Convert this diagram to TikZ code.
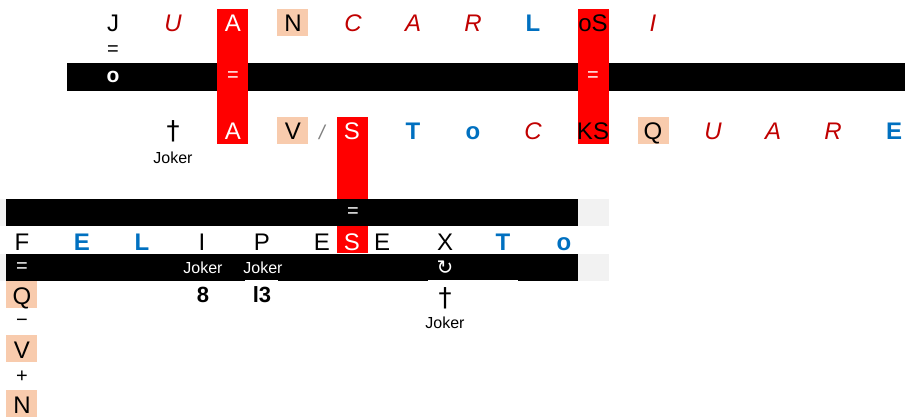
\documentclass[tikz,border=0pt]{standalone}
\usepackage{fontspec}
\setmainfont{Liberation Sans}
\newfontfamily\symfont{DejaVu Sans}
\definecolor{myred}{HTML}{C00000}
\definecolor{myblue}{HTML}{0070C0}
\definecolor{peach}{HTML}{F8CBAD}
\definecolor{lgray}{HTML}{F2F2F2}
\definecolor{slashgray}{HTML}{808080}
\tikzset{
  big/.style={inner sep=0, anchor=base, font=\fontsize{24}{28}\selectfont},
  ri/.style={big, text=myred, font=\fontsize{24}{28}\selectfont\itshape},
  bb/.style={big, text=myblue, font=\fontsize{24}{28}\selectfont\bfseries},
  wl/.style={big, text=white},
  sm/.style={inner sep=0, anchor=center, font=\fontsize{20}{22}\selectfont},
  jk/.style={inner sep=0, anchor=base, font=\fontsize{16}{18}\selectfont},
  dg/.style={inner sep=0, anchor=base, font=\symfont\fontsize{26}{30}\selectfont},
  bd/.style={inner sep=0, anchor=base, font=\fontsize{22}{24}\selectfont\bfseries},
}
\begin{document}
\begin{tikzpicture}[x=1pt,y=-1pt]
\useasboundingbox (0,0) rectangle (905,417);
% bars
\fill[black] (67,63) rectangle (905,91);
\fill[lgray] (0,199) rectangle (609,226);
\fill[black] (6,199) rectangle (578,226);
\fill[lgray] (0,254) rectangle (609,281);
\fill[black] (6,254) rectangle (578,281);
\fill[white] (245,280) rectangle (278,281.5);
\fill[white] (428,280) rectangle (518,281.5);
% red columns
\fill[red] (217,9) rectangle (248,144);
\fill[red] (578,9) rectangle (609,144);
\fill[red] (337,117) rectangle (368,199);
\fill[red] (337,226) rectangle (368,253);
% peach boxes
\fill[peach] (277,9) rectangle (308,36);
\fill[peach] (277,117) rectangle (308,144);
\fill[peach] (638,117) rectangle (669,144);
\fill[peach] (6,281) rectangle (37,308);
\fill[peach] (6,335) rectangle (37,362);
\fill[peach] (6,390) rectangle (37,417);
% row 1
\node[big] (r1a) at (113,32) {J};
\node[ri] (r1b) at (173,32) {U};
\node[wl] (r1c) at (233,32) {A};
\node[big] (r1d) at (293,32) {N};
\node[ri] (r1e) at (353,32) {C};
\node[ri] (r1f) at (413,32) {A};
\node[ri] (r1g) at (473,32) {R};
\node[bb] (r1h) at (533,32) {L};
\node[big] (r1i) at (593,32) {oS};
\node[ri] (r1j) at (653,32) {I};
\node[sm] (e1) at (113,51) {=};
\node[inner sep=0, text=white, font=\fontsize{21}{22}\selectfont\bfseries] (o1) at (113,77) {o};
\node[sm, text=white] (e2) at (233,77) {=};
\node[sm, text=white] (e3) at (593,77) {=};
% row 2
\node[dg] (d1) at (173,140) {†};
\node[jk] (j1) at (173,164) {Joker};
\node[wl] (r2a) at (233,140) {A};
\node[big] (r2b) at (293,140) {V};
\node[big, text=slashgray, font=\fontsize{20}{22}\selectfont\itshape] (r2s) at (322,140) {/};
\node[wl] (r2c) at (352,140) {S};
\node[bb] (r2d) at (413,140) {T};
\node[bb] (r2e) at (473,140) {o};
\node[ri] (r2f) at (533,140) {C};
\node[big] (r2g) at (593,140) {KS};
\node[big] (r2h) at (653,140) {Q};
\node[ri] (r2i) at (713,140) {U};
\node[ri] (r2j) at (773,140) {A};
\node[ri] (r2k) at (833,140) {R};
\node[bb] (r2l) at (894,140) {E};
\node[sm, text=white] (e4) at (353,213) {=};
% row 3
\node[big] (r3a) at (22,250) {F};
\node[bb] (r3b) at (82,250) {E};
\node[bb] (r3c) at (142,250) {L};
\node[big] (r3d) at (202,250) {I};
\node[big] (r3e) at (262,250) {P};
\node[big] (r3f) at (322,250) {E};
\node[wl] (r3g) at (352,250) {S};
\node[big] (r3h) at (382,250) {E};
\node[big] (r3i) at (445,250) {X};
\node[bb] (r3j) at (503,250) {T};
\node[bb] (r3k) at (564,250) {o};
% bar 3 labels
\node[sm, text=white] (e5) at (22,268) {=};
\node[jk, text=white] (j2) at (203,273) {Joker};
\node[jk, text=white] (j3) at (263,273) {Joker};
\node[inner sep=0, text=white, font=\symfont\fontsize{20}{22}\selectfont] (rot) at (445,268) {↻};
% row 4
\node[big] (r4a) at (22,304) {Q};
\node[bd] (n8) at (203,302) {8};
\node[bd] (n13) at (262,302) {l3};
\node[dg] (d2) at (445,306) {†};
\node[jk] (j4) at (445,328) {Joker};
% left column
\node[sm] (mi) at (22,323) {−};
\node[big] (r5a) at (22,358) {V};
\node[sm] (pl) at (22,377) {+};
\node[big] (r6a) at (22,413) {N};
\end{tikzpicture}
\end{document}
